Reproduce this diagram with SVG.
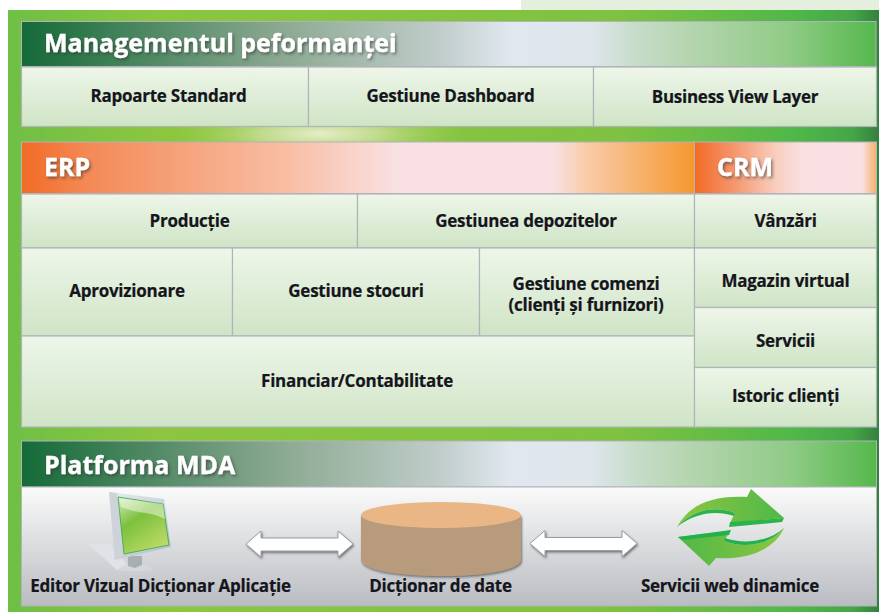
<svg xmlns="http://www.w3.org/2000/svg" width="879" height="612" viewBox="0 0 879 612">
<style>
.c{fill:url(#cell);stroke:#b0b4b8;stroke-width:1.2}
.l{font-family:"Open Sans","Noto Sans","Liberation Sans",sans-serif;font-weight:700;font-size:17px;fill:#15151c;stroke:#15151c;stroke-width:.2;text-anchor:middle;letter-spacing:-.25px}
.t{font-family:"Open Sans","Noto Sans","Liberation Sans",sans-serif;font-weight:700;font-size:25px;fill:#fff;stroke:#fff;stroke-width:.3;filter:url(#ts)}
.a{fill:#fff;stroke:#9a9ea4;stroke-width:1;filter:url(#as)}
</style>
<defs>
<linearGradient id="bg"><stop offset="0" stop-color="#6fbf46"/><stop offset=".17" stop-color="#8cc63f"/><stop offset=".7" stop-color="#7fc241"/><stop offset=".9" stop-color="#50b848"/><stop offset=".97" stop-color="#45a647"/><stop offset="1" stop-color="#33803f"/></linearGradient>
<radialGradient id="glow" gradientUnits="userSpaceOnUse" cx="320" cy="134" r="150" gradientTransform="translate(0 107) scale(1 .2)"><stop offset="0" stop-color="#e6eeca"/><stop offset=".4" stop-color="#cfe0a0" stop-opacity=".8"/><stop offset="1" stop-color="#a5d050" stop-opacity="0"/></radialGradient>
<linearGradient id="cell" x2="0" y2="1"><stop offset="0" stop-color="#eef6e9"/><stop offset="1" stop-color="#cfe4c6"/></linearGradient>
<linearGradient id="gh"><stop offset="0" stop-color="#156a38"/><stop offset=".3" stop-color="#8aa890"/><stop offset=".49" stop-color="#c0cdca"/><stop offset=".57" stop-color="#e0e7ee"/><stop offset=".665" stop-color="#dfe6ec"/><stop offset=".72" stop-color="#c6dcc8"/><stop offset=".78" stop-color="#b5d5b0"/><stop offset=".9" stop-color="#8fcb85"/><stop offset="1" stop-color="#55b84c"/></linearGradient>
<linearGradient id="erp"><stop offset="0" stop-color="#f26b26"/><stop offset=".1" stop-color="#f48a57"/><stop offset=".4" stop-color="#f8bfa6"/><stop offset=".56" stop-color="#f9e1e3"/><stop offset=".79" stop-color="#f9e1e3"/><stop offset=".84" stop-color="#f9cba8"/><stop offset="1" stop-color="#f5982f"/></linearGradient>
<linearGradient id="crm"><stop offset="0" stop-color="#f26b26"/><stop offset=".2" stop-color="#f59268"/><stop offset=".45" stop-color="#f9cfc0"/><stop offset=".6" stop-color="#f9e1e3"/><stop offset=".92" stop-color="#f9e1e3"/><stop offset="1" stop-color="#f7b06a"/></linearGradient>
<linearGradient id="pl" x2="0" y2="1"><stop offset="0" stop-color="#fbfbfb"/><stop offset="1" stop-color="#b9bcc1"/></linearGradient>
<linearGradient id="sc" x1=".2" y1="0" x2=".8" y2="1"><stop offset="0" stop-color="#c5e2a5"/><stop offset=".35" stop-color="#7cc13c"/><stop offset="1" stop-color="#c3dd6c"/></linearGradient>
<linearGradient id="mon" x2="1" y2="1"><stop offset="0" stop-color="#e8ecf0"/><stop offset="1" stop-color="#b2bcc6"/></linearGradient>
<linearGradient id="ar"><stop offset="0" stop-color="#8cc63f"/><stop offset="1" stop-color="#50b848"/></linearGradient>
<linearGradient id="ar2"><stop offset="0" stop-color="#50b848"/><stop offset="1" stop-color="#8cc63f"/></linearGradient>
<filter id="ts" x="-10%" y="-30%" width="120%" height="170%"><feDropShadow dx="1.500" dy="2" stdDeviation="1.500" flood-color="#333" flood-opacity=".6"/></filter>
<filter id="as" x="-10%" y="-30%" width="120%" height="170%"><feDropShadow dx="1" dy="1.500" stdDeviation="1.200" flood-color="#444" flood-opacity=".7"/></filter>
</defs>

<rect x="521" y="0" width="358" height="10" fill="#e4efdd"/>
<rect x="8" y="10" width="871" height="602" fill="url(#bg)"/>
<rect x="8" y="127" width="871" height="15" fill="url(#glow)"/>

<g id="management">
<rect x="21.500" y="21.500" width="854.500" height="45" fill="url(#gh)" stroke="#b0b4b8" stroke-width="1"/>
<text class="t" x="44" y="52">Managementul peformanței</text>
</g>
<g id="rapoarte"><rect class="c" x="21.500" y="67" width="287" height="59.500"/><text class="l" x="168.500" y="102">Rapoarte Standard</text></g>
<g id="dashboard"><rect class="c" x="308.500" y="67" width="285" height="59.500"/><text class="l" x="450.500" y="102">Gestiune Dashboard</text></g>
<g id="business"><rect class="c" x="593.500" y="67" width="283" height="59.500"/><text class="l" x="735" y="103">Business View Layer</text></g>

<g id="erp-header"><rect x="21.500" y="142" width="673" height="51.500" fill="url(#erp)" stroke="#b0b4b8"/><text class="t" x="44" y="176">ERP</text></g>
<g id="crm-header"><rect x="694.500" y="142" width="182" height="51.500" fill="url(#crm)" stroke="#b0b4b8"/><text class="t" x="717" y="176">CRM</text></g>

<g id="productie"><rect class="c" x="21.500" y="194" width="336" height="54"/><text class="l" x="189.500" y="227">Producție</text></g>
<g id="depozite"><rect class="c" x="357.500" y="194" width="337" height="54"/><text class="l" x="526" y="227">Gestiunea depozitelor</text></g>
<g id="aprovizionare"><rect class="c" x="21.500" y="248" width="211" height="88"/><text class="l" x="127" y="297">Aprovizionare</text></g>
<g id="stocuri"><rect class="c" x="232.500" y="248" width="247" height="88"/><text class="l" x="356" y="297">Gestiune stocuri</text></g>
<g id="comenzi"><rect class="c" x="479.500" y="248" width="215" height="88"/><text class="l" x="586" y="290">Gestiune comenzi</text><text class="l" x="586" y="311">(clienți și furnizori)</text></g>
<g id="financiar"><rect class="c" x="21.500" y="336" width="673" height="91"/><text class="l" x="357" y="387">Financiar/Contabilitate</text></g>

<g id="vanzari"><rect class="c" x="694.500" y="194" width="182" height="54"/><text class="l" x="785.500" y="227">Vânzări</text></g>
<g id="magazin"><rect class="c" x="694.500" y="248" width="182" height="59.500"/><text class="l" x="785.500" y="287">Magazin virtual</text></g>
<g id="servicii"><rect class="c" x="694.500" y="307.500" width="182" height="60"/><text class="l" x="785.500" y="347">Servicii</text></g>
<g id="istoric"><rect class="c" x="694.500" y="367.500" width="182" height="59.500"/><text class="l" x="785.500" y="402">Istoric clienți</text></g>

<g id="platforma">
<rect x="21.500" y="441" width="855" height="46" fill="url(#gh)" stroke="#b0b4b8"/>
<rect x="21.500" y="487" width="855" height="119" fill="url(#pl)" stroke="#b0b4b8"/>
<text class="t" x="44" y="474">Platforma MDA</text>
</g>

<g id="editor">
<path d="M88 544H110L128 565 117 570Z" fill="#dfe2e6"/>
<path d="M117 570q6-5 13-7h10q8 2 13 7q-18 2-36 0z" fill="#d4d8dc"/>
<path d="M128 556h14v9l-7 3-7-2z" fill="#a9aeb2"/>
<path d="M109 492l55 7 7 48-56 13z" fill="url(#mon)"/>
<path d="M109 492l8 1 7 62-9 5z" fill="#cdd3d9"/>
<path d="M118 497l45 7 6 41-45 9z" fill="url(#sc)" stroke="#2fa84f" stroke-width=".8"/>
<path d="M119 498l44 6 2 15q-10-5-20-6-14-2-24-6z" fill="#fff" opacity=".45"/>
<text class="l" x="160.500" y="592">Editor Vizual Dicționar Aplicație</text>
</g>

<g id="dictionar">
<path d="M361 515v45c0 9 32 16 80 16s80-7 80-16v-45z" fill="#b89a7b" filter="url(#as)"/>
<ellipse cx="441" cy="515" rx="80" ry="13" fill="#ebb686"/>
<text class="l" x="440.500" y="592">Dicționar de date</text>
</g>

<g id="servicii-web">
<path d="M677 527C690 503 715 495 747 497L751 489 784 518 730 523 735 513C715 505 692 510 677 527Z" fill="url(#ar)"/>
<path d="M730 522L784 518 782 522 729 527ZM677 527C692 510 715 505 735 513L734 516C715 510 695 513 677 527Z" fill="#2cb34a"/>
<path d="M784 528C774 550 748 560 716 558L709 566 678 537 730 531 724 541C745 549 770 545 784 528Z" fill="url(#ar2)"/>
<path d="M678 537L731 530 729 535 682 540ZM724 541C745 549 770 545 784 528 770 541 745 545 725 538Z" fill="#22b14c"/>
<text class="l" x="730" y="592">Servicii web dinamice</text>
</g>

<g id="connectors">
<path class="a" d="M246 544l15-13v7h77v-7l15 13-15 13v-6h-77v6z"/>
<path class="a" d="M530 543.500l15-13v7h77v-7l15 13-15 13v-6h-77v6z"/>
</g>
</svg>
